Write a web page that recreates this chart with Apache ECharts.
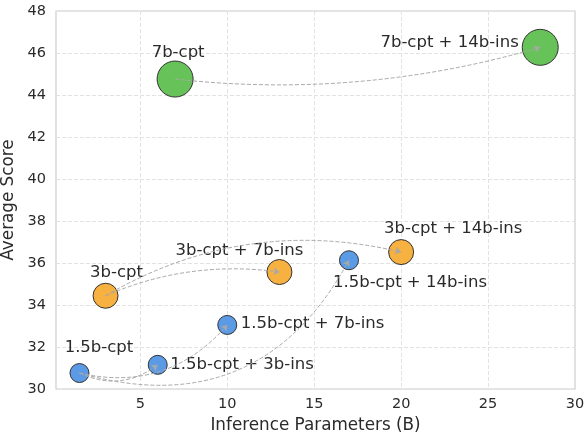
<!DOCTYPE html>
<html>
<head>
<meta charset="utf-8">
<script src="https://cdn.jsdelivr.net/npm/echarts@6/dist/echarts.min.js"></script>
<style>
html,body{margin:0;padding:0;background:#fff;}
#chart{width:584px;height:437px;}
</style>
</head>
<body>
<div id="chart"></div>
<script>
// ---- data ----
const labels = ['1.5b-cpt', '1.5b-cpt + 3b-ins', '1.5b-cpt + 7b-ins', '1.5b-cpt + 14b-ins',
                '3b-cpt', '3b-cpt + 7b-ins', '3b-cpt + 14b-ins',
                '7b-cpt', '7b-cpt + 14b-ins'];
const params = [1.5, 6, 10, 17, 3, 13, 20, 7, 28];
const scores = [30.76, 31.15, 33.05, 36.13, 34.44, 35.57, 36.52, 44.76, 46.27];
const groups = ['1.5b', '1.5b', '1.5b', '1.5b', '3b', '3b', '3b', '7b', '7b'];
const arrowFrom = [0, 0, 0, 4, 4, 7];
const arrowTo = [1, 2, 3, 5, 6, 8];
const xTicks = [5, 10, 15, 20, 25, 30];
const yTicks = [30, 32, 34, 36, 38, 40, 42, 44, 46, 48];

// ---- styles ----
const groupColor = {'1.5b': '#5b9be6', '3b': '#f6b140', '7b': '#68c25a'};
const groupSize = {'1.5b': 19, '3b': 25, '7b': 36};
// label placement relative to the bubble centre: [align, dx, dy]
const labelPlace = [
  ['center', 19.5, -25.5],
  ['left', 12.5, 0],
  ['left', 13.5, -1],
  ['center', 61, 22.5],
  ['center', 11, -23],
  ['center', -40, -21.5],
  ['center', 52, -23.5],
  ['center', 3, -26],
  ['right', -21.5, -4.5]
];
const arrowCurve = [-0.3, -0.3, -0.4, 0.14, 0.2, -0.1];
const FONT = 'DejaVu Sans';
const TXT = '#2a2a2a';

const scatterData = labels.map((name, i) => ({
  name: name,
  value: [params[i], scores[i]],
  symbolSize: groupSize[groups[i]],
  itemStyle: {color: groupColor[groups[i]]},
  label: {
    show: true,
    position: 'inside',
    formatter: name,
    align: labelPlace[i][0],
    verticalAlign: 'middle',
    offset: [labelPlace[i][1], labelPlace[i][2]],
    fontFamily: FONT,
    fontSize: 16.5,
    color: TXT
  }
}));

const lineData = arrowFrom.map((f, k) => ({
  coords: [[params[f], scores[f]], [params[arrowTo[k]], scores[arrowTo[k]]]],
  lineStyle: {curveness: arrowCurve[k]}
}));

const chart = echarts.init(document.getElementById('chart'), null, {renderer: 'canvas'});
chart.setOption({
  animation: false,
  backgroundColor: '#fff',
  grid: {left: 56, right: 9, top: 11, bottom: 48, show: true, containLabel: false, outerBoundsMode: 'none',
         borderColor: '#cccccc', borderWidth: 1.2, backgroundColor: 'transparent'},
  xAxis: {
    type: 'value',
    min: 0.15, max: 30,
    splitNumber: 6,
    name: 'Inference Parameters (B)',
    nameLocation: 'middle',
    nameGap: 25,
    nameTextStyle: {fontFamily: FONT, fontSize: 16.8, color: TXT},
    axisLine: {show: false},
    axisTick: {show: false},
    axisLabel: {
      fontFamily: FONT, fontSize: 14.5, color: TXT, margin: 8,
      formatter: v => (xTicks.indexOf(v) >= 0 ? String(v) : '')
    },
    splitLine: {show: true, lineStyle: {color: '#e2e2e2', type: [4, 2], width: 1}}
  },
  yAxis: {
    type: 'value',
    min: yTicks[0], max: yTicks[yTicks.length - 1],
    interval: 2,
    name: 'Average Score',
    nameLocation: 'middle',
    nameGap: 24,
    nameTextStyle: {fontFamily: FONT, fontSize: 16.8, color: TXT},
    axisLine: {show: false},
    axisTick: {show: false},
    axisLabel: {fontFamily: FONT, fontSize: 14.5, color: TXT, margin: 10},
    splitLine: {show: true, lineStyle: {color: '#e2e2e2', type: [4, 2], width: 1}}
  },
  series: [
    {
      type: 'scatter',
      data: scatterData,
      z: 2,
      itemStyle: {borderColor: '#333333', borderWidth: 1, opacity: 1},
      emphasis: {disabled: true}
    },
    {
      type: 'lines',
      coordinateSystem: 'cartesian2d',
      z: 3,
      symbol: ['none', 'arrow'],
      symbolSize: 6,
      lineStyle: {color: '#a8a8a8', width: 1, type: [4, 2], opacity: 1},
      data: lineData
    }
  ]
});
</script>
</body>
</html>
